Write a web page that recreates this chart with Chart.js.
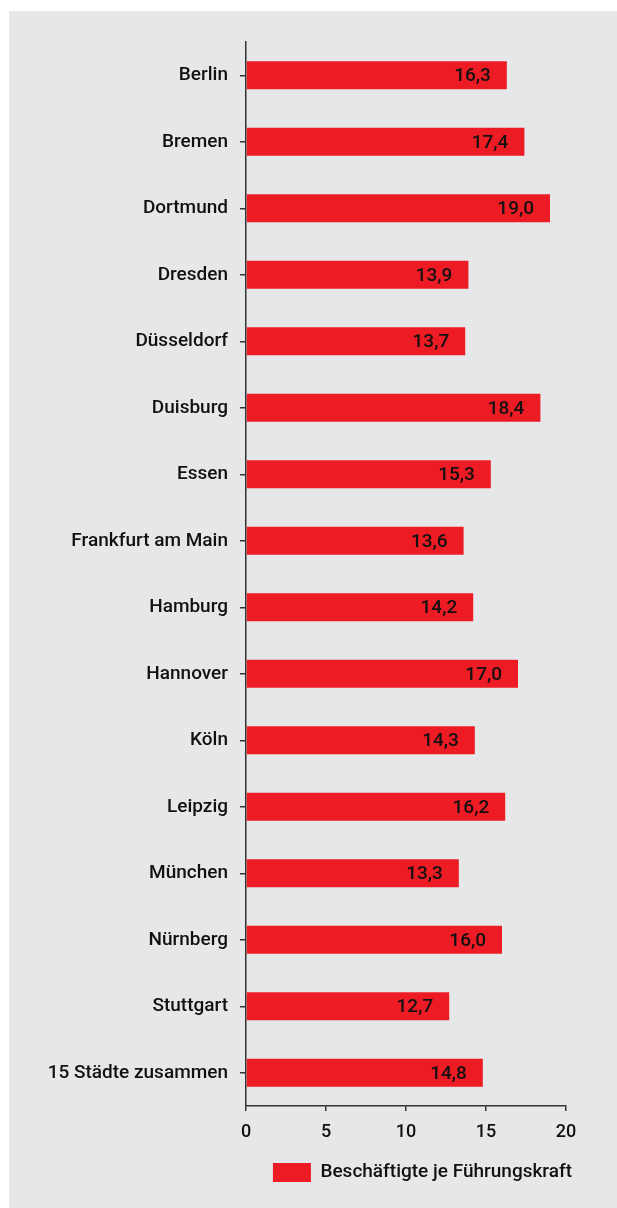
<!DOCTYPE html>
<html>
<head>
<meta charset="utf-8">
<script src="https://cdn.jsdelivr.net/npm/chart.js@4/dist/chart.umd.min.js"></script>
<style>
  html, body { margin: 0; padding: 0; background: #ffffff; overflow: hidden; }
  #panel { position: absolute; left: 9px; top: 11px; width: 608px; height: 1197px; background: #E6E7E8; }
  #c { position: absolute; left: 0; top: 0; }
</style>
</head>
<body>
<div id="panel"></div>
<canvas id="c" width="617" height="1208"></canvas>
<script>
const categories = ["Berlin", "Bremen", "Dortmund", "Dresden", "Düsseldorf", "Duisburg", "Essen",
  "Frankfurt am Main", "Hamburg", "Hannover", "Köln", "Leipzig", "München", "Nürnberg",
  "Stuttgart", "15 Städte zusammen"];
const values = [16.3, 17.4, 19.0, 13.9, 13.7, 18.4, 15.3, 13.6, 14.2, 17.0, 14.3, 16.2, 13.3, 16.0, 12.7, 14.8];
const seriesLabel = "Beschäftigte je Führungskraft";
const xTicks = [0, 5, 10, 15, 20];

const FONT = 'Roboto, "Liberation Sans", Arial, sans-serif';
Chart.defaults.font.family = FONT;
Chart.defaults.font.weight = 500;
Chart.defaults.color = '#111111';

const valueLabels = {
  id: 'valueLabels',
  afterDatasetsDraw(chart) {
    const ctx = chart.ctx;
    const meta = chart.getDatasetMeta(0);
    ctx.save();
    ctx.font = '500 19px ' + FONT;
    ctx.fillStyle = '#111111';
    ctx.textAlign = 'right';
    ctx.textBaseline = 'middle';
    meta.data.forEach((bar, i) => {
      const v = chart.data.datasets[0].data[i];
      ctx.fillText(v.toFixed(1).replace('.', ','), bar.x - 16, bar.y + 1);
    });
    ctx.restore();
  }
};

new Chart(document.getElementById('c'), {
  type: 'bar',
  data: {
    labels: categories,
    datasets: [{
      label: seriesLabel,
      data: values,
      backgroundColor: '#ED1C24',
      borderWidth: 0,
      barPercentage: 0.42,
      categoryPercentage: 1.0
    }]
  },
  options: {
    indexAxis: 'y',
    responsive: false,
    devicePixelRatio: 1,
    animation: false,
    layout: { padding: { top: 42, right: 35, bottom: 16, left: 0 } },
    plugins: {
      legend: {
        position: 'bottom',
        align: 'end',
        labels: {
          boxWidth: 38,
          boxHeight: 19,
          padding: 10,
          color: '#111111',
          font: { size: 19, weight: 500 }
        }
      },
      tooltip: { enabled: false }
    },
    scales: {
      x: {
        type: 'linear',
        min: 0,
        max: 20,
        afterBuildTicks(s) { s.ticks = xTicks.map(v => ({ value: v })); },
        grid: { drawOnChartArea: false, drawTicks: true, tickLength: 5, color: '#333333', lineWidth: 1.5 },
        border: { display: true, color: '#333333', width: 1.5 },
        ticks: { font: { size: 18, weight: 500 }, color: '#111111', padding: 11 },
        afterFit(s) { s.height = 47; s.paddingLeft = 0; s.paddingRight = 0; }
      },
      y: {
        grid: { drawOnChartArea: false, drawTicks: true, tickLength: 6, color: '#333333', lineWidth: 1.5, offset: false },
        border: { display: true, color: '#333333', width: 1.5 },
        ticks: { font: { size: 19, weight: 500 }, color: '#111111', padding: 12, autoSkip: false },
        afterFit(s) { s.width = 246; s.paddingTop = 0; s.paddingBottom = 0; }
      },
      yRight: {
        type: 'linear',
        position: 'right',
        display: true,
        grid: { display: false },
        border: { display: false },
        ticks: { display: false },
        afterFit(s) { s.width = 16; s.paddingTop = 0; s.paddingBottom = 0; }
      }
    }
  },
  plugins: [valueLabels]
});
</script>
</body>
</html>
